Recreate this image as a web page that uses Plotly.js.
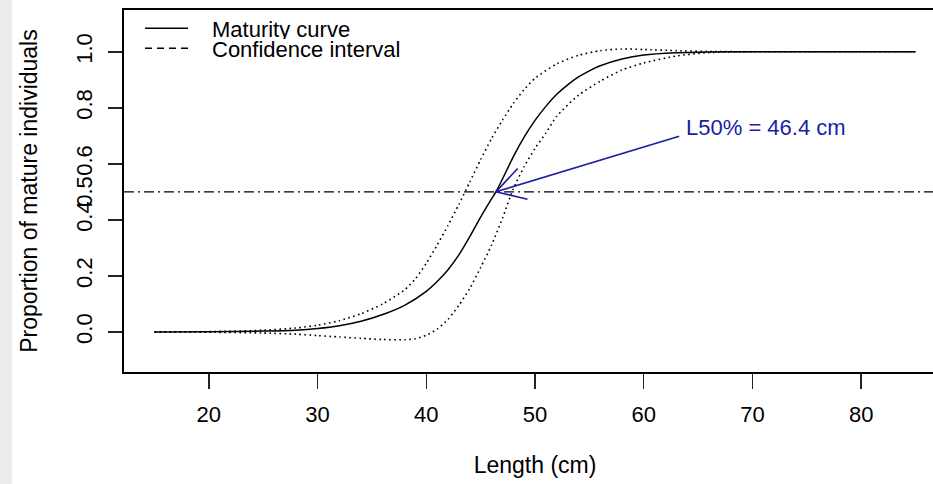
<!DOCTYPE html>
<html>
<head>
<meta charset="utf-8">
<script src="https://cdn.plot.ly/plotly-3.0.1.min.js"></script>
<style>
html, body { margin: 0; padding: 0; overflow: hidden; background: #ffffff; width: 933px; height: 484px; }
#chart { position: absolute; left: 0; top: 0; }
#band { position: absolute; left: 0; top: 0; width: 12px; height: 484px; background: #ececec; z-index: 5; }
</style>
</head>
<body>
<div id="chart"></div>
<div id="band"></div>
<script>
// ---- data ----
const L50 = 46.4;
const refLevel = 0.5;
const labelX = 63.4;   // arrow tail / label anchor (cm)
const labelY = 0.70;   // arrow tail / label anchor (proportion)
const labelText = 'L50% = 46.4 cm';

const lengthFit = [15, 20, 25, 28, 30, 32, 34, 36, 38, 40, 41, 42, 43, 44, 45, 46, 46.4, 47, 48, 49, 50, 51, 52, 53, 54, 55, 56, 58, 60, 63, 66, 70, 75, 80, 85];
const propFit   = [0, 0.001, 0.003, 0.006, 0.012, 0.022, 0.038, 0.062, 0.095, 0.145, 0.18, 0.222, 0.275, 0.34, 0.41, 0.475, 0.50, 0.545, 0.625, 0.695, 0.755, 0.805, 0.848, 0.882, 0.91, 0.932, 0.95, 0.974, 0.988, 0.996, 0.999, 1, 1, 1, 1];

const lengthUpper = [15, 20, 25, 28, 30, 32, 34, 36, 38, 39, 40, 41, 42, 43, 44, 45, 46, 47, 48, 49, 50, 52, 54, 56, 58, 60, 63, 66, 70, 75, 80, 85];
const propUpper   = [0, 0.001, 0.006, 0.014, 0.024, 0.04, 0.065, 0.10, 0.15, 0.19, 0.245, 0.31, 0.38, 0.455, 0.535, 0.615, 0.69, 0.755, 0.815, 0.865, 0.905, 0.957, 0.987, 1.004, 1.01, 1.008, 1.004, 1.001, 1, 1, 1, 1];

const lengthLower = [15, 20, 25, 28, 30, 32, 34, 36, 38, 39, 40, 41, 42, 43, 44, 45, 46, 47, 48, 49, 50, 51, 52, 54, 56, 58, 60, 63, 66, 70, 75, 80, 85];
const propLower   = [0, -0.001, -0.004, -0.008, -0.013, -0.018, -0.023, -0.027, -0.028, -0.024, -0.012, 0.01, 0.045, 0.095, 0.155, 0.23, 0.31, 0.405, 0.51, 0.59, 0.655, 0.71, 0.77, 0.845, 0.895, 0.935, 0.96, 0.985, 0.997, 1, 1, 1, 1];

const xTickVals = [20, 30, 40, 50, 60, 70, 80];
const yTickVals = [0, 0.2, 0.4, 0.6, 0.8, 1.0];
const yTickText = ['0.0', '0.2', '0.4', '0.6', '0.8', '1.0'];
const legendNames = ['Maturity curve', 'Confidence interval'];

// ---- layout constants ----
const W = 960, H = 484;
const M = {l: 124, r: 14, t: 10, b: 112};
const xRange = [12.2, 87.8];
const yRange = [-0.143, 1.149];
const FONT = 'Liberation Sans, Arial, sans-serif';
const plotW = W - M.l - M.r, plotH = H - M.t - M.b;
const px = (p) => (p - M.l) / plotW;       // pixel -> paper x
const py = (p) => (H - M.b - p) / plotH;   // pixel -> paper y

const blue = '#1c1ca6';

const traces = [
  {x: lengthUpper, y: propUpper, mode: 'lines', line: {color: '#000', width: 1.6, dash: '1.6px,3.4px', shape: 'spline', smoothing: 0.6}, showlegend: false, hoverinfo: 'skip'},
  {x: lengthLower, y: propLower, mode: 'lines', line: {color: '#000', width: 1.6, dash: '1.6px,3.4px', shape: 'spline', smoothing: 0.6}, showlegend: false, hoverinfo: 'skip'},
  {x: lengthFit, y: propFit, mode: 'lines', line: {color: '#000', width: 1.5, shape: 'spline', smoothing: 0.6}, showlegend: false}
];

// arrow head arms (computed in pixel space from the shaft direction)
const pxPerX = plotW / (xRange[1] - xRange[0]);
const pxPerY = plotH / (yRange[1] - yRange[0]);
const sdx = (labelX - L50) * pxPerX;
const sdy = -(labelY - refLevel) * pxPerY;
const ang = Math.atan2(sdy, sdx);
const headLen = 34, headAng = 30 * Math.PI / 180;
const arms = [ang - headAng, ang + headAng].map(a => ({
  x: L50, y: refLevel, xref: 'x', yref: 'y',
  ax: headLen * Math.cos(a), ay: headLen * Math.sin(a),
  showarrow: true, arrowhead: 0, arrowwidth: 1.6, arrowcolor: blue, text: '', standoff: 0
}));

const annotations = [
  {x: L50, y: refLevel, xref: 'x', yref: 'y', ax: labelX, ay: labelY, axref: 'x', ayref: 'y',
   showarrow: true, arrowhead: 0, arrowwidth: 1.6, arrowcolor: blue, text: '', standoff: 0},
  ...arms,
  {x: labelX, y: labelY, xref: 'x', yref: 'y', xanchor: 'left', yanchor: 'middle', yshift: 8, xshift: 3,
   text: labelText, showarrow: false, font: {family: FONT, size: 22, color: blue}},
  {x: px(85), y: refLevel, xref: 'paper', yref: 'y', xanchor: 'center', yanchor: 'middle', textangle: -90,
   text: '0.5', showarrow: false, font: {family: FONT, size: 22, color: '#000'}},
  {x: px(210), y: py(29), xref: 'paper', yref: 'paper', xanchor: 'left', yanchor: 'middle', height: 20, valign: 'middle',
   text: legendNames[0], showarrow: false, font: {family: FONT, size: 22, color: '#000'}},
  {x: px(210), y: py(49.5), xref: 'paper', yref: 'paper', xanchor: 'left', yanchor: 'middle', height: 20, valign: 'middle',
   text: legendNames[1], showarrow: false, font: {family: FONT, size: 22, color: '#000'}}
];

const shapes = [
  {type: 'line', xref: 'paper', yref: 'y', x0: 0, x1: 1, y0: refLevel, y1: refLevel,
   line: {color: '#000', width: 1.2, dash: '10px,4px,2px,4px'}},
  {type: 'line', xref: 'paper', yref: 'paper', x0: px(145), x1: px(188), y0: py(28.3), y1: py(28.3),
   line: {color: '#000', width: 1.5}},
  {type: 'line', xref: 'paper', yref: 'paper', x0: px(145), x1: px(188), y0: py(48.3), y1: py(48.3),
   line: {color: '#000', width: 1.5, dash: '7px,5px'}}
];

const axisCommon = {
  showline: true, linecolor: '#000', linewidth: 1.8, mirror: true,
  ticks: 'outside', tickwidth: 1.5, tickcolor: '#222',
  showgrid: false, zeroline: false,
  tickfont: {family: FONT, size: 22, color: '#000'},
  fixedrange: true
};

const layout = {
  width: W, height: H, margin: M,
  paper_bgcolor: '#fff', plot_bgcolor: '#fff',
  font: {family: FONT, size: 22, color: '#000'},
  showlegend: false,
  xaxis: Object.assign({}, axisCommon, {
    range: xRange, tickvals: xTickVals, ticklen: 15, ticklabelstandoff: 7,
    title: {text: 'Length (cm)', font: {family: FONT, size: 23, color: '#000'}, standoff: 31}
  }),
  yaxis: Object.assign({}, axisCommon, {
    range: yRange, tickvals: yTickVals, ticktext: yTickText, tickangle: -90, ticklen: 14, ticklabelstandoff: 7,
    title: {text: 'Proportion of mature individuals', font: {family: FONT, size: 23, color: '#000'}, standoff: 28}
  }),
  annotations: annotations,
  shapes: shapes
};

Plotly.newPlot('chart', traces, layout, {staticPlot: true, displayModeBar: false});
</script>
</body>
</html>
